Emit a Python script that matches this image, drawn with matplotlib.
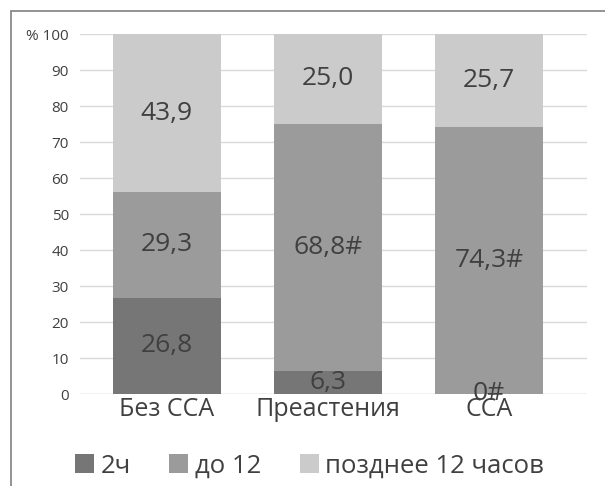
import matplotlib
matplotlib.use("Agg")
import matplotlib.pyplot as plt
from matplotlib.patches import Rectangle, Patch
import numpy as np

plt.rcParams['font.family'] = ['Open Sans', 'DejaVu Sans']

categories = ["Без ССА", "Преастения", "ССА"]
series_names = ["2ч", "до 12", "позднее 12 часов"]
v_2h = [26.8, 6.3, 0.0]
v_upto12 = [29.3, 68.8, 74.3]
v_late = [43.9, 25.0, 25.7]
labels_2h = ["26,8", "6,3", "0#"]
labels_upto12 = ["29,3", "68,8#", "74,3#"]
labels_late = ["43,9", "25,0", "25,7"]
y_ticks = [0, 10, 20, 30, 40, 50, 60, 70, 80, 90, 100]
y_ticklabels = ["0", "10", "20", "30", "40", "50", "60", "70", "80", "90", "% 100"]

colors = ["#767676", "#9b9b9b", "#cbcbcb"]
text_color = "#404040"

fig = plt.figure(figsize=(6.05, 4.86), dpi=100)
W, H = 605, 486
ax = fig.add_axes([80 / W, 1 - 394 / H, (587 - 80) / W, (394 - 34) / H])

x = np.arange(len(categories))
width = 0.67
bottom = np.zeros(len(categories))
for vals, labs, col, name in zip([v_2h, v_upto12, v_late],
                                 [labels_2h, labels_upto12, labels_late],
                                 colors, series_names):
    ax.bar(x, vals, width, bottom=bottom, color=col, label=name, zorder=2)
    for xi, b, v, lab in zip(x, bottom, vals, labs):
        ax.text(xi, b + v / 2, lab, ha="center", va="center",
                fontsize=19, color=text_color, zorder=3)
    bottom = bottom + np.array(vals)

ax.set_xlim(-0.54, 2.61)
ax.set_ylim(0, 100)
ax.set_yticks(y_ticks)
ax.set_yticklabels(y_ticklabels, fontsize=11, color=text_color)
ax.set_xticks(x)
ax.set_xticklabels(categories, fontsize=18, color=text_color)
ax.tick_params(axis="both", length=0)
ax.tick_params(axis="y", pad=8)
ax.tick_params(axis="x", pad=2)
ax.yaxis.grid(True, color="#d9d9d9", linewidth=1, zorder=0)
for s in ax.spines.values():
    s.set_visible(False)
ax.axhline(0, color="#d9d9d9", linewidth=1, zorder=1)

handles = [Patch(facecolor=c, edgecolor="none") for c in colors]
fig.legend(handles, series_names, loc="center",
           bbox_to_anchor=(0.5 + 7 / W, 1 - 466 / H),
           ncol=3, frameon=False, fontsize=18.5, handlelength=0.75, handleheight=0.75,
           handletextpad=0.25, columnspacing=1.5, labelcolor=text_color)

# outer frame (top and left edges visible)
fig.add_artist(Rectangle((11 / W, -0.1), 1.2, 1 - 11 / H + 0.1,
                         transform=fig.transFigure, fill=False,
                         edgecolor="#808080", linewidth=1.2))

fig.savefig("out.png", dpi=100)
